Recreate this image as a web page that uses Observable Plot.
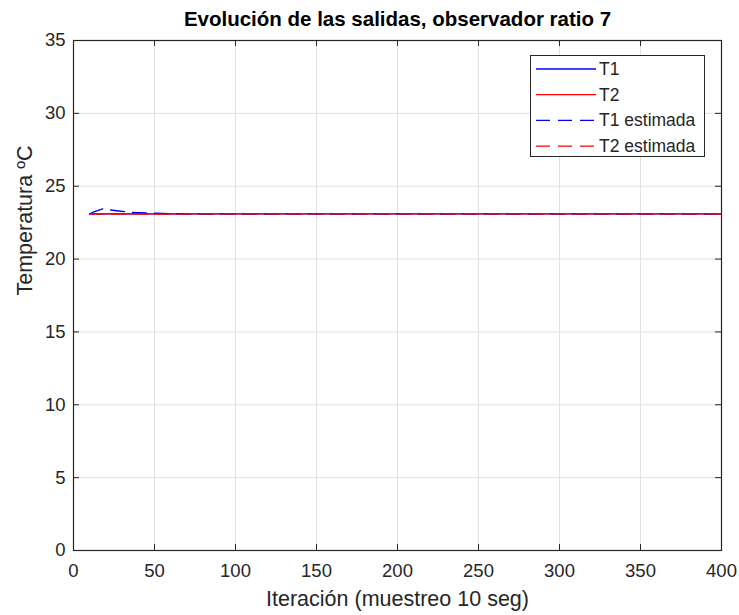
<!DOCTYPE html>
<html><head><meta charset="utf-8">
<script src="https://cdn.jsdelivr.net/npm/d3@7"></script>
<script src="https://cdn.jsdelivr.net/npm/@observablehq/plot@0.6"></script>
<style>
body{margin:0;background:#fff;font-family:"Liberation Sans",Arial,sans-serif;}
#wrap{position:relative;width:739px;height:615px;}
#legend{position:absolute;left:530px;top:55px;width:175px;height:102px;border:1px solid #262626;background:#fff;box-sizing:border-box;}
</style>
</head><body>
<div id="wrap"><div id="chart"></div><div id="legend"></div></div>
<script>
const titleText = "Evolución de las salidas, observador ratio 7";
const xLabel = "Iteración (muestreo 10 seg)";
const yLabel = "Temperatura ºC";
const xTicks = [0,50,100,150,200,250,300,350,400];
const yTicks = [0,5,10,15,20,25,30,35];
const t1Iter = [10, 400];
const t1Vals = [23.1, 23.1];
const t2Iter = [10, 400];
const t2Vals = [23.1, 23.1];
const t1eIter = [10, 13, 18, 22, 28, 35, 45, 55, 70, 400];
const t1eVals = [23.1, 23.25, 23.45, 23.38, 23.3, 23.2, 23.17, 23.13, 23.1, 23.1];
const t2eIter = [10, 20, 35, 50, 65, 80, 400];
const t2eVals = [23.1, 23.08, 23.1, 23.08, 23.09, 23.1, 23.1];
const seriesNames = ["T1","T2","T1 estimada","T2 estimada"];
const seriesColors = ["#0000ff","#ff0000","#0000ff","#ff0000"];
const seriesDash = [null,null,"14,8","14,8"];

const toRows = (xs, ys) => xs.map((x,i)=>({x, y: ys[i]}));
const t1 = toRows(t1Iter,t1Vals), t2 = toRows(t2Iter,t2Vals);
const t1e = toRows(t1eIter,t1eVals), t2e = toRows(t2eIter,t2eVals);

const W = 739, H = 615, mT = 40, mB = 65, mL = 73, mR = 18;
const frameH = H - mT - mB, frameW = W - mL - mR;
const axisColor = "#262626";
const font = '"Liberation Sans", Arial, sans-serif';

const chart = Plot.plot({
  width: W, height: H,
  marginTop: mT, marginBottom: mB, marginLeft: mL, marginRight: mR,
  style: {fontFamily: font, background: "#fff"},
  x: {domain: [0,400], ticks: xTicks, label: null},
  y: {domain: [0,35], ticks: yTicks, label: null},
  marks: [
    Plot.gridX(xTicks, {stroke: "#e0e0e0", strokeOpacity: 1}),
    Plot.gridY(yTicks, {stroke: "#e0e0e0", strokeOpacity: 1}),
    Plot.line(t1, {x:"x", y:"y", stroke: seriesColors[0], strokeWidth: 1.3}),
    Plot.line(t2, {x:"x", y:"y", stroke: seriesColors[1], strokeWidth: 1.3}),
    Plot.line(t1e, {x:"x", y:"y", stroke: seriesColors[2], strokeWidth: 1.3, strokeDasharray: seriesDash[2]}),
    Plot.line(t2e, {x:"x", y:"y", stroke: seriesColors[3], strokeWidth: 1.3, strokeDasharray: seriesDash[3]}),
    Plot.frame({stroke: axisColor, strokeWidth: 1.2}),
    Plot.tickX(xTicks, {x: d=>d, stroke: axisColor, insetTop: frameH-6}),
    Plot.tickX(xTicks, {x: d=>d, stroke: axisColor, insetBottom: frameH-6}),
    Plot.tickY(yTicks, {y: d=>d, stroke: axisColor, insetRight: frameW-6}),
    Plot.tickY(yTicks, {y: d=>d, stroke: axisColor, insetLeft: frameW-6}),
    Plot.axisX(xTicks, {tickSize: 0, tickPadding: 13, fontSize: 18.5, fill: axisColor}),
    Plot.axisY(yTicks, {tickSize: 0, tickPadding: 8, fontSize: 18.5, fill: axisColor}),
    Plot.text([titleText], {frameAnchor: "top", dy: -29, fontSize: 20.5, fontWeight: "bold", fill: "#000"}),
    Plot.text([xLabel], {frameAnchor: "bottom", dy: 55, fontSize: 21.5, fill: axisColor}),
    Plot.text([yLabel], {frameAnchor: "left", dx: -48, rotate: -90, fontSize: 21.5, fill: axisColor})
  ]
});
document.getElementById("chart").appendChild(chart);

// legend
const lg = d3.select("#legend").append("svg").attr("width",173).attr("height",100)
  .style("font-family",font);
seriesNames.forEach((n,i)=>{
  const y = 13 + i*25.7;
  lg.append("line").attr("x1",5).attr("x2",65).attr("y1",y).attr("y2",y)
    .attr("stroke",seriesColors[i]).attr("stroke-width",1.3)
    .attr("stroke-dasharray",seriesDash[i]);
  lg.append("text").attr("x",68).attr("y",y+6).attr("font-size",17.5).attr("fill",axisColor).text(n);
});
</script>
</body></html>
